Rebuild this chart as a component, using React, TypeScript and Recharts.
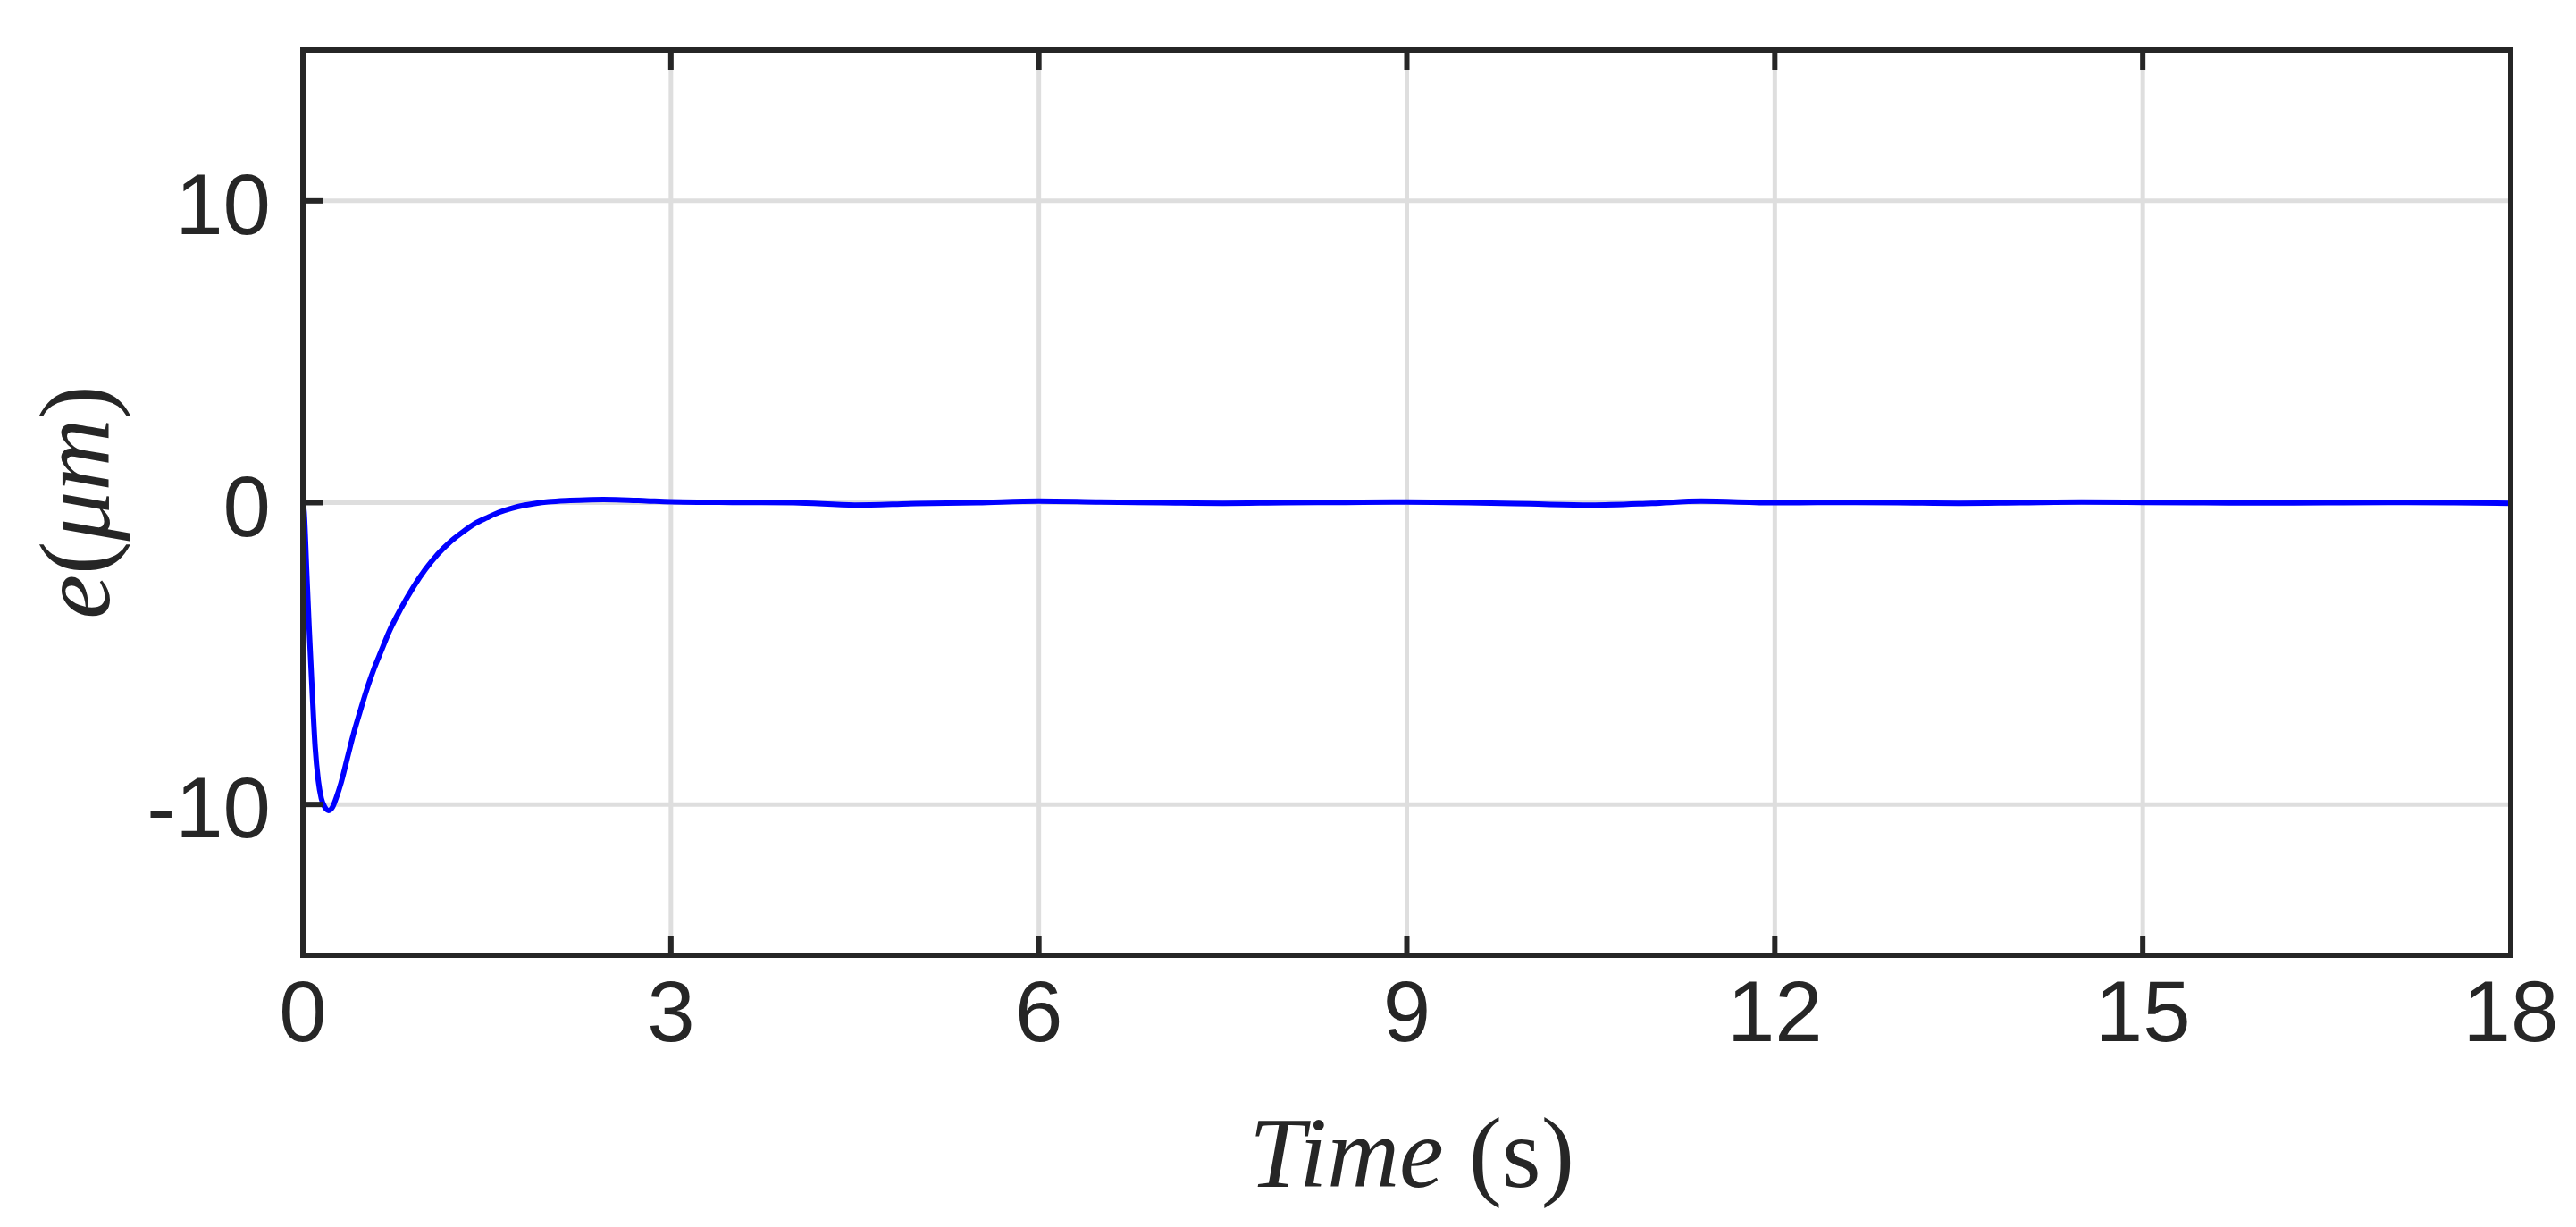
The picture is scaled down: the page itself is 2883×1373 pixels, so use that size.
import React from 'react';
import { LineChart, Line, XAxis, YAxis, CartesianGrid } from 'recharts';

// time (s) and tracking error (um)
const TIME = [
  0, 0.01, 0.03, 0.05, 0.075, 0.1, 0.125, 0.15, 0.18, 0.21, 0.24, 0.27, 0.31, 0.36,
  0.41, 0.46, 0.52, 0.58, 0.64, 0.7, 0.8, 0.9, 1.0, 1.1, 1.2, 1.3, 1.4, 1.5, 1.6,
  1.7, 1.8, 1.9, 2.0, 2.15, 2.3, 2.45, 2.6, 2.8, 3.0, 3.5, 4.0, 4.5, 5.0, 5.5, 6.0,
  6.5, 7.0, 7.5, 8.0, 8.5, 9.0, 9.5, 10.0, 10.5, 11.0, 11.4, 12.0, 12.5, 13.0, 13.5,
  14.0, 14.5, 15.0, 15.5, 16.0, 16.5, 17.0, 17.5, 18.0,
];
const ERROR = [
  0, -0.3, -2.2, -4.1, -6.2, -8.1, -9.2, -9.8, -10.1, -10.2, -10.1, -9.8, -9.3, -8.5,
  -7.7, -7.0, -6.2, -5.5, -4.9, -4.3, -3.5, -2.8, -2.2, -1.7, -1.3, -0.98, -0.7, -0.5, -0.32,
  -0.19, -0.09, -0.02, 0.03, 0.07, 0.09, 0.1, 0.09, 0.06, 0.03, 0.01, 0.0, -0.08, -0.03, 0.0, 0.05,
  0.02, 0.0, -0.02, 0.0, 0.01, 0.02, 0.0, -0.04, -0.08, -0.02, 0.05, 0.0, 0.01, 0.0, -0.02,
  0.0, 0.02, 0.01, 0.0, -0.01, 0.0, 0.01, 0.0, -0.02,
];
const X_TICKS = [0, 3, 6, 9, 12, 15, 18];
const Y_TICKS = [-10, 0, 10];

const data = TIME.map((t, i) => ({ t, e: ERROR[i] }));

const W = 2883;
const H = 1373;
const AXIS = '#262626';
const GRID = '#dedede';
const TICK_LEN = 22;
const SANS = '"Liberation Sans", Arial, Helvetica, sans-serif';
const SERIF = '"Liberation Serif", "Times New Roman", serif';

const BottomTick = ({ x, y, payload }: any) => (
  <g>
    <line x1={x} y1={y} x2={x} y2={y - TICK_LEN} stroke={AXIS} strokeWidth={6} />
    <text x={x} y={y + 96} textAnchor="middle" fontSize={96} fill={AXIS} fontFamily={SANS}>
      {payload.value}
    </text>
  </g>
);

const TopTick = ({ x, y }: any) => (
  <line x1={x} y1={y} x2={x} y2={y + TICK_LEN} stroke={AXIS} strokeWidth={6} />
);

const LeftTick = ({ x, y, payload }: any) => (
  <g>
    <line x1={x} y1={y} x2={x + TICK_LEN} y2={y} stroke={AXIS} strokeWidth={6} />
    <text x={x - 36} y={y + 37} textAnchor="end" fontSize={96} fill={AXIS} fontFamily={SANS}>
      {payload.value}
    </text>
  </g>
);

const RightTick = ({ x, y }: any) => (
  <line x1={x} y1={y} x2={x - TICK_LEN} y2={y} stroke={AXIS} strokeWidth={6} />
);

const axisLine = { stroke: AXIS, strokeWidth: 6, strokeLinecap: 'square' as const };

export default function App() {
  return (
    <div style={{ position: 'absolute', left: 0, top: 0, width: W, height: H, background: '#fff' }}>
      <LineChart
        width={W}
        height={H}
        data={data}
        margin={{ top: 55, right: 72, bottom: 104, left: 88 }}
      >
        <CartesianGrid stroke={GRID} strokeWidth={5} />
        <XAxis
          dataKey="t"
          type="number"
          domain={[0, 18]}
          ticks={X_TICKS}
          interval={0}
          height={200}
          tickSize={0}
          tickMargin={0}
          tickLine={false}
          tick={<BottomTick />}
          axisLine={axisLine}
        />
        <XAxis
          xAxisId="top"
          orientation="top"
          dataKey="t"
          type="number"
          domain={[0, 18]}
          ticks={X_TICKS}
          interval={0}
          height={1}
          tickSize={0}
          tickMargin={0}
          tickLine={false}
          tick={<TopTick />}
          axisLine={axisLine}
        />
        <YAxis
          type="number"
          domain={[-15, 15]}
          ticks={Y_TICKS}
          interval={0}
          width={251}
          tickSize={0}
          tickMargin={0}
          tickLine={false}
          tick={<LeftTick />}
          axisLine={axisLine}
        />
        <YAxis
          yAxisId="right"
          orientation="right"
          type="number"
          domain={[-15, 15]}
          ticks={Y_TICKS}
          interval={0}
          width={1}
          tickSize={0}
          tickMargin={0}
          tickLine={false}
          tick={<RightTick />}
          axisLine={axisLine}
        />
        <Line
          dataKey="e"
          type="monotone"
          stroke="#0000ff"
          strokeWidth={6}
          dot={false}
          isAnimationActive={false}
        />
      </LineChart>
      <svg
        width={W}
        height={H}
        style={{ position: 'absolute', left: 0, top: 0, pointerEvents: 'none' }}
      >
        <text x={1580} y={1328} textAnchor="middle" fontSize={112} fill={AXIS} fontFamily={SERIF}>
          <tspan fontStyle="italic">Time</tspan>
          <tspan> (s)</tspan>
        </text>
        <text
          x={84}
          y={562}
          transform="rotate(-90, 84, 562)"
          textAnchor="middle"
          dominantBaseline="central"
          fontSize={112}
          fill={AXIS}
          fontFamily={SERIF}
        >
          <tspan fontStyle="italic">e</tspan>
          <tspan>(</tspan>
          <tspan fontStyle="italic">μm</tspan>
          <tspan>)</tspan>
        </text>
      </svg>
    </div>
  );
}
